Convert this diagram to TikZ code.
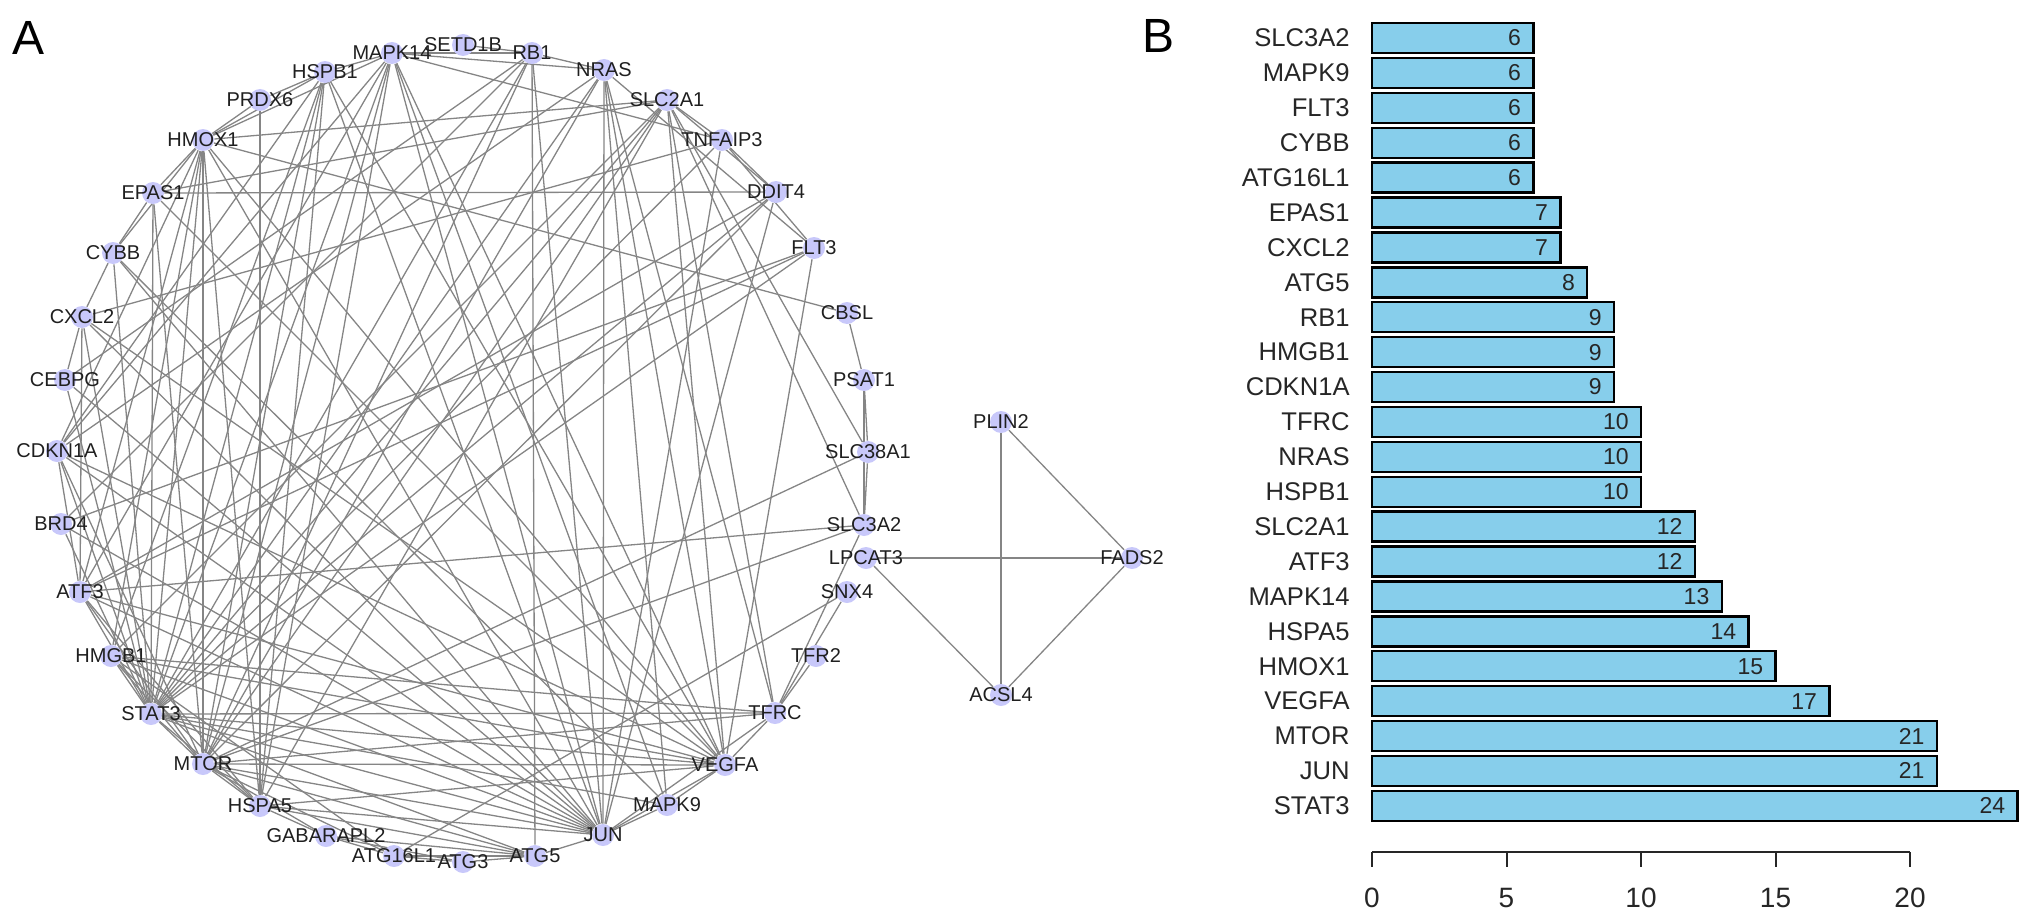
\documentclass[tikz,border=0pt]{standalone}
\usepackage{fontspec}
\setmainfont{Liberation Sans}
\definecolor{lav}{RGB}{200,200,250}
\definecolor{barblue}{RGB}{135,206,235}
\pgfdeclarelayer{bg}
\pgfsetlayers{bg,main}
\tikzset{
  gnode/.style={circle, fill=lav, draw=none, minimum size=11pt, inner sep=0pt},
  glbl/.style={font=\fontsize{10}{12}\selectfont, text=black!88, inner sep=0pt},
  edge/.style={draw=black!48, line width=0.65pt},
  barbox/.style={draw=black, fill=barblue, line width=1.2pt},
  barlbl/.style={font=\fontsize{12.8}{15}\selectfont, text=black!85, inner sep=0pt, anchor=east},
  barnum/.style={font=\fontsize{11.5}{14}\selectfont, text=black!85, inner sep=0pt, anchor=east},
  axlbl/.style={font=\fontsize{14}{16}\selectfont, text=black!85, inner sep=0pt},
  axisline/.style={draw=black!85, line width=1pt},
  panel/.style={font=\fontsize{24}{28}\selectfont, inner sep=0pt}
}
\begin{document}
\begin{tikzpicture}[x=0.5pt,y=-0.5pt]
\useasboundingbox (0,0) rectangle (2032,920);

% panel letters
\node[panel] (pA) at (29,38) {A};
\node[panel] (pB) at (1158,36) {B};

% network nodes
\foreach \n/\x/\y/\t in {
 mapk14/392/53/MAPK14, setd1b/463/45/SETD1B, rb1/532/53/RB1, hspb1/325/72/HSPB1,
 prdx6/260/100/PRDX6, hmox1/203/140/HMOX1, epas1/153/193/EPAS1, cybb/113/253/CYBB,
 cxcl2/82/317/CXCL2, cebpg/65/380/CEBPG, cdkn1a/57/451/CDKN1A, brd4/61/524/BRD4,
 atf3/80/592/ATF3, hmgb1/111/656/HMGB1, stat3/151/714/STAT3, mtor/203/764/MTOR,
 hspa5/260/806/HSPA5, gabarapl2/326/836/GABARAPL2, atg16l1/394/856/ATG16L1,
 atg3/463/862/ATG3, atg5/535/856/ATG5, jun/603/835/JUN, mapk9/667/805/MAPK9,
 vegfa/725/765/VEGFA, tfrc/775/713/TFRC, tfr2/816/656/TFR2, snx4/847/592/SNX4,
 lpcat3/866/558/LPCAT3, slc3a2/864/525/SLC3A2, slc38a1/868/452/SLC38A1,
 psat1/864/380/PSAT1, cbsl/847/313/CBSL, flt3/814/248/FLT3, ddit4/776/192/DDIT4,
 tnfaip3/722/140/TNFAIP3, slc2a1/667/100/SLC2A1, nras/604/70/NRAS,
 plin2/1001/422/PLIN2, fads2/1132/558/FADS2, acsl4/1001/695/ACSL4}
 {\node[gnode, label={[glbl]center:\t}] (\n) at (\x,\y) {};}

% network edges
\begin{pgfonlayer}{bg}
\foreach \a/\b in {
 stat3/jun, stat3/mtor, stat3/vegfa, stat3/hmox1, stat3/hspa5, stat3/mapk14, stat3/atf3,
 stat3/slc2a1, stat3/hspb1, stat3/nras, stat3/tfrc, stat3/cdkn1a, stat3/hmgb1, stat3/rb1,
 stat3/cxcl2, stat3/epas1, stat3/cybb, stat3/flt3, stat3/mapk9, stat3/brd4, stat3/tnfaip3,
 stat3/ddit4, stat3/cebpg, stat3/atg5,
 jun/mtor, jun/vegfa, jun/hmox1, jun/hspa5, jun/mapk14, jun/atf3, jun/hspb1, jun/nras,
 jun/cdkn1a, jun/hmgb1, jun/rb1, jun/cxcl2, jun/mapk9, jun/atg5, jun/tnfaip3, jun/ddit4,
 jun/cebpg, jun/brd4, jun/tfrc, jun/cybb,
 mtor/vegfa, mtor/hmox1, mtor/hspa5, mtor/atf3, mtor/slc2a1, mtor/hspb1, mtor/nras,
 mtor/tfrc, mtor/cdkn1a, mtor/hmgb1, mtor/rb1, mtor/atg5, mtor/atg16l1, mtor/ddit4,
 mtor/slc3a2, mtor/epas1, mtor/mapk14, mtor/slc38a1, mtor/gabarapl2,
 vegfa/hmox1, vegfa/hspa5, vegfa/mapk14, vegfa/atf3, vegfa/slc2a1, vegfa/tfrc, vegfa/hmgb1,
 vegfa/cxcl2, vegfa/epas1, vegfa/mapk9, vegfa/flt3, vegfa/hspb1, vegfa/cdkn1a, vegfa/nras,
 hmox1/hspa5, hmox1/mapk14, hmox1/atf3, hmox1/hspb1, hmox1/epas1, hmox1/cybb, hmox1/prdx6,
 hmox1/cdkn1a, hmox1/hmgb1, hmox1/cbsl, hmox1/slc2a1,
 hspa5/atf3, hspa5/hspb1, hspa5/prdx6, hspa5/atg5, hspa5/gabarapl2, hspa5/mapk14,
 hspa5/slc2a1, hspa5/hmgb1,
 mapk14/hspb1, mapk14/rb1, mapk14/atf3, mapk14/mapk9, mapk14/cdkn1a, mapk14/nras,
 mapk14/tnfaip3,
 atf3/cdkn1a, atf3/cxcl2, atf3/ddit4, atf3/flt3, atf3/slc3a2,
 slc2a1/slc3a2, slc2a1/slc38a1, slc2a1/ddit4, slc2a1/hmgb1, slc2a1/epas1, slc2a1/tfrc,
 slc2a1/tnfaip3,
 hspb1/prdx6, hspb1/hmgb1, hspb1/cdkn1a,
 nras/rb1, nras/mapk9, nras/cdkn1a, nras/flt3, nras/tfrc,
 tfrc/tfr2, tfrc/snx4, tfrc/slc3a2, tfrc/hmgb1,
 cybb/cxcl2, cybb/epas1, cybb/mapk9,
 rb1/setd1b, rb1/atg5, rb1/brd4, rb1/cebpg,
 atg5/atg3, atg5/atg16l1, atg5/gabarapl2,
 cxcl2/tnfaip3, cxcl2/cebpg, epas1/ddit4,
 atg16l1/atg3, atg16l1/gabarapl2, atg16l1/snx4, atg16l1/hmgb1,
 flt3/tnfaip3, flt3/brd4, slc3a2/slc38a1, slc3a2/psat1, tnfaip3/ddit4,
 cbsl/psat1, psat1/slc38a1, atg3/gabarapl2,
 lpcat3/fads2, lpcat3/acsl4, plin2/fads2, plin2/acsl4, fads2/acsl4}
 {\draw[edge] (\a) -- (\b);}
\end{pgfonlayer}

% bar chart
\foreach \nm/\v [count=\i from 0] in {
 SLC3A2/6, MAPK9/6, FLT3/6, CYBB/6, ATG16L1/6, EPAS1/7, CXCL2/7, ATG5/8, RB1/9,
 HMGB1/9, CDKN1A/9, TFRC/10, NRAS/10, HSPB1/10, SLC2A1/12, ATF3/12, MAPK14/13,
 HSPA5/14, HMOX1/15, VEGFA/17, MTOR/21, JUN/21, STAT3/24}
{
 \pgfmathsetmacro{\yc}{38+34.9*\i}
 \pgfmathsetmacro{\xe}{1372+26.9*\v}
 \draw[barbox] (1372,\yc-15) rectangle (\xe,\yc+15);
 \node[barlbl] (bl\i) at (1350,\yc) {\nm};
 \node[barnum] (bn\i) at (\xe-12,\yc) {\v};
}

% axis
\draw[axisline] (1372,852) -- (1910,852);
\foreach \t in {0,5,10,15,20}
{
 \draw[axisline] (1372+26.9*\t,852) -- (1372+26.9*\t,867);
 \node[axlbl] (ax\t) at (1372+26.9*\t,898) {\t};
}
\end{tikzpicture}
\end{document}
